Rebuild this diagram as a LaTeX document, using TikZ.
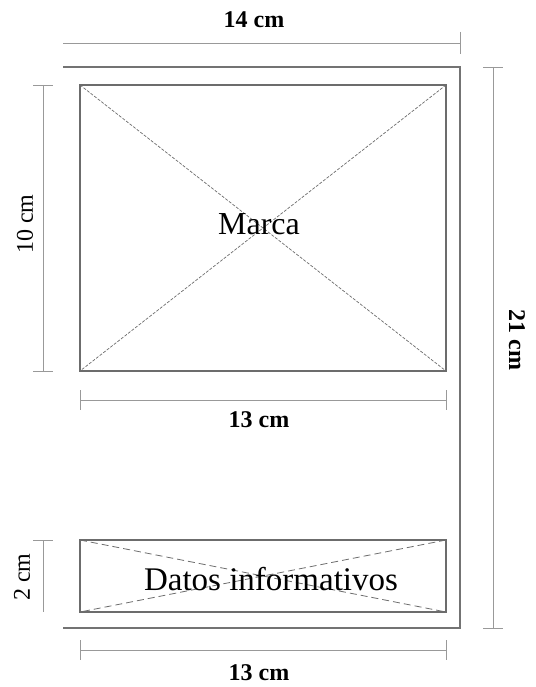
\documentclass[tikz,border=0pt]{standalone}
\usepackage{fontspec}
\setmainfont{Liberation Serif}
\begin{document}
\begin{tikzpicture}[x=1pt,y=-1pt,
  dimline/.style={draw=gray!80, line width=0.9pt},
  tick/.style={draw=gray!80, line width=0.9pt},
  frame/.style={draw=gray!90!black, line width=1.3pt},
  boxline/.style={draw=gray!85!black, line width=1.1pt},
  diag/.style={draw=gray!85!black, line width=0.7pt, dash pattern=on 3pt off 1.5pt},
  diagb/.style={draw=gray!85!black, line width=0.8pt, dash pattern=on 7pt off 4pt},
  dimlabel/.style={font=\fontsize{24}{26}\selectfont\bfseries, inner sep=0pt},
  biglabel/.style={font=\fontsize{32}{34}\selectfont, inner sep=0pt}]
\useasboundingbox (0,0) rectangle (535,687);
% outer frame (top, right, bottom)
\coordinate (oTL) at (63,67);
\coordinate (oTR) at (460,67);
\coordinate (oBR) at (460,628);
\coordinate (oBL) at (63,628);
\draw[frame] (oTL) -- (oTR) -- (oBR) -- (oBL);
% top rectangle
\coordinate (aTL) at (80,85);
\coordinate (aTR) at (446,85);
\coordinate (aBR) at (446,371);
\coordinate (aBL) at (80,371);
\draw[boxline] (aTL) rectangle (aBR);
\draw[diag] (aTL) -- (aBR);
\draw[diag] (aTR) -- (aBL);
\node[biglabel] (marca) at (259,224) {Marca};
% bottom rectangle
\coordinate (bTL) at (80,540);
\coordinate (bTR) at (446,540);
\coordinate (bBR) at (446,612);
\coordinate (bBL) at (80,612);
\draw[boxline] (bTL) rectangle (bBR);
\draw[diagb] (bTL) -- (bBR);
\draw[diagb] (bTR) -- (bBL);
\node[font=\fontsize{33}{35}\selectfont, inner sep=0pt] (datos) at (271,579) {Datos informativos};
% top dimension 14 cm
\coordinate (t1) at (63,43);
\coordinate (t2) at (460,43);
\draw[dimline] (t1) -- (t2);
\draw[tick] (460,32) -- (460,54);
\node[dimlabel] (l14) at (254,20) {14 cm};
% left dimension 10 cm
\coordinate (v1) at (43,85);
\coordinate (v2) at (43,371);
\draw[dimline] (v1) -- (v2);
\draw[tick] (33,85) -- (53,85);
\draw[tick] (33,371) -- (53,371);
\node[dimlabel, font=\fontsize{24}{26}\selectfont, rotate=90] (l10) at (25,224) {10 cm};
% 13 cm under top rect
\coordinate (h1) at (80,400);
\coordinate (h2) at (446,400);
\draw[dimline] (h1) -- (h2);
\draw[tick] (80,390) -- (80,410);
\draw[tick] (446,390) -- (446,410);
\node[dimlabel] (l13a) at (259,420) {13 cm};
% right dimension 21 cm
\coordinate (r1) at (493,67);
\coordinate (r2) at (493,628);
\draw[dimline] (r1) -- (r2);
\draw[tick] (483,67) -- (503,67);
\draw[tick] (483,628) -- (503,628);
\node[dimlabel, rotate=-90] (l21) at (517,340) {21 cm};
% left dimension 2 cm
\coordinate (s1) at (43,540);
\coordinate (s2) at (43,612);
\draw[dimline] (s1) -- (s2);
\draw[tick] (33,540) -- (53,540);
\node[dimlabel, font=\fontsize{24}{26}\selectfont, rotate=90] (l2) at (22,577) {2 cm};
% bottom dimension 13 cm
\coordinate (b1) at (80,650);
\coordinate (b2) at (446,650);
\draw[dimline] (b1) -- (b2);
\draw[tick] (80,640) -- (80,660);
\draw[tick] (446,640) -- (446,660);
\node[dimlabel] (l13b) at (259,673) {13 cm};
\end{tikzpicture}
\end{document}
